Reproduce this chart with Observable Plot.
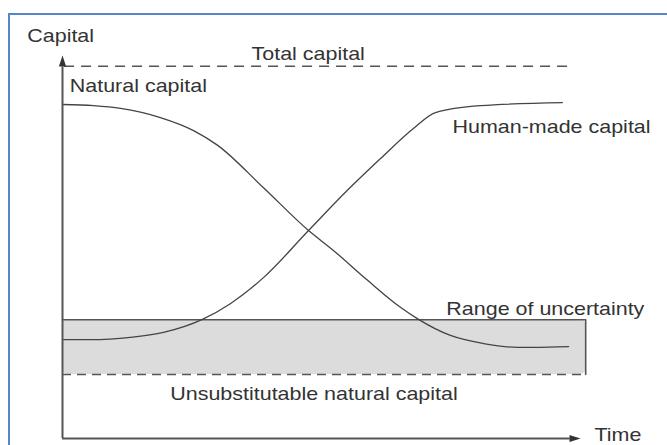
<!DOCTYPE html>
<html>
<head>
<meta charset="utf-8">
<script src="https://cdn.jsdelivr.net/npm/d3@7"></script>
<script src="https://cdn.jsdelivr.net/npm/@observablehq/plot@0.6"></script>
<style>
  html, body { margin: 0; padding: 0; background: #fff; overflow: hidden; }
  #wrap { position: relative; width: 667px; height: 445px; }
  #border { position: absolute; left: 8px; top: 13px; width: 700px; height: 500px;
            border-top: 2px solid #5386cc; border-left: 2px solid #5386cc; pointer-events: none; }
  #chart svg { display: block; }
</style>
</head>
<body>
<div id="wrap"><div id="chart"></div><div id="border"></div></div>
<script>
// Conceptual chart values (arbitrary units, 0–100 on both axes)
const naturalX = [0, 6.0, 11.2, 18.9, 25.3, 29.9, 38.7, 47.5, 52.3, 58.9, 65.3, 68.5, 74.9, 81.3, 87.8, 90.9, 97.7];
const naturalY = [87.2, 86.9, 86.2, 83.8, 80.4, 76.6, 65.6, 54.3, 49.1, 41.3, 34.2, 31.3, 26.9, 24.8, 23.8, 23.8, 24.0];
const humanX = [0, 5.4, 13.1, 19.5, 27.0, 32.4, 38.8, 47.5, 55.0, 61.4, 67.8, 72.0, 80.7, 96.5];
const humanY = [25.8, 25.8, 26.4, 27.7, 31.1, 35.2, 42.0, 54.3, 64.8, 73.1, 81.0, 85.1, 86.9, 87.7];
const totalCapital = 97.2;           // level of the total capital line
const totalCapitalEnd = 97.5;        // time extent of that line
const uncertaintyLow = 16.7;         // unsubstitutable natural capital
const uncertaintyHigh = 31.0;        // top of range of uncertainty
const uncertaintyEnd = 101;          // time extent of the range box
const labelText = ["Capital", "Total capital", "Natural capital", "Human-made capital",
                   "Range of uncertainty", "Unsubstitutable natural capital", "Time"];
const labelX = [-6.8, 36.5, 1.4, 75.3, 74.1, 20.8, 102.7];
const labelY = [105.0, 100.5, 92.0, 81.2, 33.7, 11.5, 0.9];

const natural = naturalX.map((x, i) => ({x, y: naturalY[i]}));
const human = humanX.map((x, i) => ({x, y: humanY[i]}));
const labels = labelText.map((t, i) => ({t, x: labelX[i], y: labelY[i]}));

const ink = "#444";
const arrowHead = {
  draw(ctx) { ctx.moveTo(0, 0); ctx.lineTo(3.6, 11); ctx.lineTo(-3.6, 11); ctx.closePath(); }
};

const chart = Plot.plot({
  width: 667, height: 445,
  marginLeft: 62, marginRight: 87, marginTop: 55, marginBottom: 7,
  x: {domain: [0, 100], axis: null},
  y: {domain: [0, 100], axis: null},
  style: {fontFamily: "'Liberation Sans', Arial, sans-serif", background: "transparent"},
  marks: [
    // range of uncertainty box
    Plot.rect([{x1: 0, x2: uncertaintyEnd, y1: uncertaintyLow, y2: uncertaintyHigh}],
      {x1: "x1", x2: "x2", y1: "y1", y2: "y2", fill: "#dcdcdc", rx: 5}),
    Plot.line([{x: 0, y: uncertaintyHigh}, {x: uncertaintyEnd, y: uncertaintyHigh}, {x: uncertaintyEnd, y: uncertaintyLow}],
      {x: "x", y: "y", stroke: "#555", strokeWidth: 1.6, strokeLinejoin: "round"}),
    Plot.ruleY([uncertaintyLow], {x1: 0, x2: uncertaintyEnd, stroke: "#555", strokeWidth: 1.6, strokeDasharray: "9,6"}),
    // total capital
    Plot.ruleY([totalCapital], {x1: 0.4, x2: totalCapitalEnd, stroke: "#555", strokeWidth: 1.6, strokeDasharray: "10,7"}),
    // curves
    Plot.line(natural, {x: "x", y: "y", curve: "monotone-x", stroke: ink, strokeWidth: 1.3}),
    Plot.line(human, {x: "x", y: "y", curve: "monotone-x", stroke: ink, strokeWidth: 1.3}),
    // axes
    Plot.ruleX([0], {y1: 0, y2: 97, stroke: "#555", strokeWidth: 2}),
    Plot.ruleY([0], {x1: 0, x2: 98, stroke: "#555", strokeWidth: 2}),
    Plot.dot([{x: 0, y: 100}], {x: "x", y: "y", symbol: arrowHead, fill: "#333", stroke: "none"}),
    Plot.dot([{x: 100, y: 0}], {x: "x", y: "y", symbol: arrowHead, rotate: 90, fill: "#333", stroke: "none"}),
    // labels
    Plot.text(labels, {x: "x", y: "y", text: "t", textAnchor: "start", fontSize: 18.5, fill: "#333"})
  ]
});
document.getElementById("chart").appendChild(chart);
// the reference lettering is horizontally stretched
chart.querySelectorAll("g[aria-label='text'] text").forEach(t => {
  const len = t.getComputedTextLength();
  t.setAttribute("textLength", (len * 1.16).toFixed(1));
  t.setAttribute("lengthAdjust", "spacingAndGlyphs");
});
</script>
</body>
</html>
